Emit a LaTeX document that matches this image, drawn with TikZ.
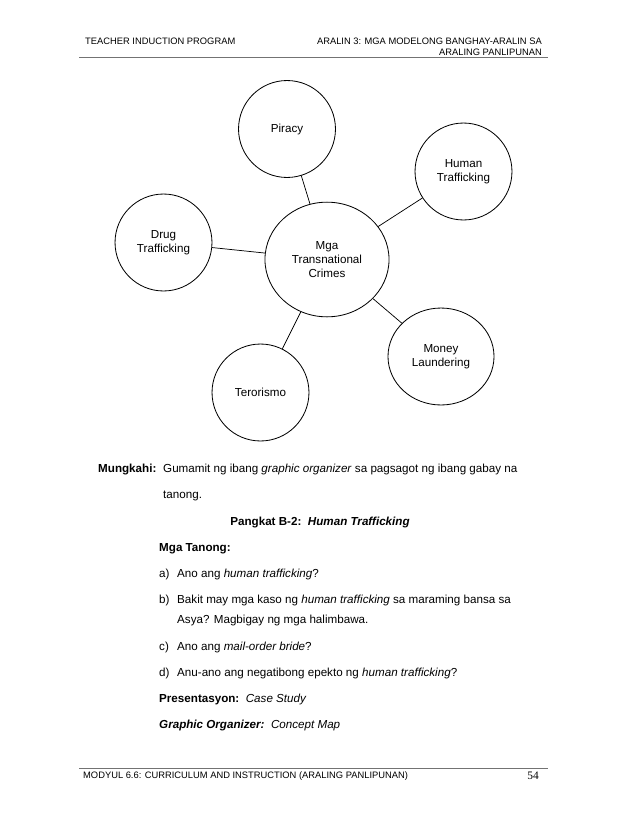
\documentclass[tikz,border=0pt]{standalone}
\usepackage{fontspec}
\setmainfont{Liberation Sans}
\newfontfamily\pagefont{Liberation Serif}
\usetikzlibrary{shapes.geometric}

\begin{document}
\begin{tikzpicture}[x=0.9592bp, y=-0.9592bp,
  crime/.style={draw, ellipse, line width=0.8pt, inner sep=0pt,
    minimum width=93bp, minimum height=93bp, align=center,
    font=\fontsize{11.2}{13.4}\selectfont},
  hub/.style={crime, minimum width=119bp, minimum height=110bp},
  link/.style={line width=0.7pt},
  rule/.style={line width=0.6pt, black!55},
  head/.style={inner sep=0pt, font=\fontsize{9}{11}\selectfont},
  txt/.style={anchor=base west, inner sep=0pt, font=\fontsize{11.2}{13.4}\selectfont}]
  \useasboundingbox[fill=white] (0,0) rectangle (638,826);

  \node[head, anchor=base west] (lefthead) at (85,44) {TEACHER INDUCTION PROGRAM};
  \node[head, anchor=base east] (righthead) at (542,44) {ARALIN 3: MGA MODELONG BANGHAY-ARALIN SA};
  \node[head, anchor=base east] (righthead2) at (542,55) {ARALING PANLIPUNAN};
  \coordinate (hl) at (79,57);
  \coordinate (hr) at (548,57);
  \draw[rule] (hl) -- (hr);

  \node[hub] (crimes) at (327,259.5) {Mga\\Transnational\\Crimes};
  \node[crime] (piracy) at (287,129) {Piracy};
  \node[crime] (human) at (463.5,171.5) {Human\\Trafficking};
  \node[crime] (drug) at (163.5,242.5) {Drug\\Trafficking};
  \node[crime, minimum width=101.7bp] (money) at (441,356.5) {Money\\Laundering};
  \node[crime] (terror) at (260.5,392.5) {Terorismo};
  \draw[link] (crimes) -- (piracy);
  \draw[link] (crimes) -- (human);
  \draw[link] (crimes) -- (drug);
  \draw[link] (crimes) -- (money);
  \draw[link] (crimes) -- (terror);

  \node[txt] (mungkahi) at (98,472) {\textbf{Mungkahi:}};
  \node[txt] (mung1) at (163,472) {Gumamit ng ibang \textit{graphic organizer} sa pagsagot ng ibang gabay na};
  \node[txt] (mung2) at (163,498) {tanong.};
  \node[txt, anchor=base] (pangkat) at (320,525) {\textbf{Pangkat B-2:\ \ \textit{Human Trafficking}}};
  \node[txt] (tanong) at (159,551) {\textbf{Mga Tanong:}};
  \node[txt] (qa) at (159,577) {a)};
  \node[txt] (qatext) at (177,577) {Ano ang \textit{human trafficking}?};
  \node[txt] (qb) at (159,603) {b)};
  \node[txt] (qbtext) at (177,603) {Bakit may mga kaso ng \textit{human trafficking} sa maraming bansa sa};
  \node[txt] (qbtext2) at (177,623) {Asya? Magbigay ng mga halimbawa.};
  \node[txt] (qc) at (159,650) {c)};
  \node[txt] (qctext) at (177,650) {Ano ang \textit{mail-order bride}?};
  \node[txt] (qd) at (159,676) {d)};
  \node[txt] (qdtext) at (177,676) {Anu-ano ang negatibong epekto ng \textit{human trafficking}?};
  \node[txt] (present) at (159,702) {\textbf{Presentasyon:}\ \ \textit{Case Study}};
  \node[txt] (organizer) at (159,728) {\textbf{\textit{Graphic Organizer:}}\ \ \textit{Concept Map}};

  \coordinate (fl) at (79,768);
  \coordinate (fr) at (548,768);
  \draw[rule] (fl) -- (fr);
  \node[head, anchor=base west] (foot) at (83,778) {MODYUL 6.6: CURRICULUM AND INSTRUCTION (ARALING PANLIPUNAN)};
  \node[inner sep=0pt, anchor=base, font=\pagefont\fontsize{11}{13}\selectfont] (page) at (533,779) {54};
\end{tikzpicture}
\end{document}
